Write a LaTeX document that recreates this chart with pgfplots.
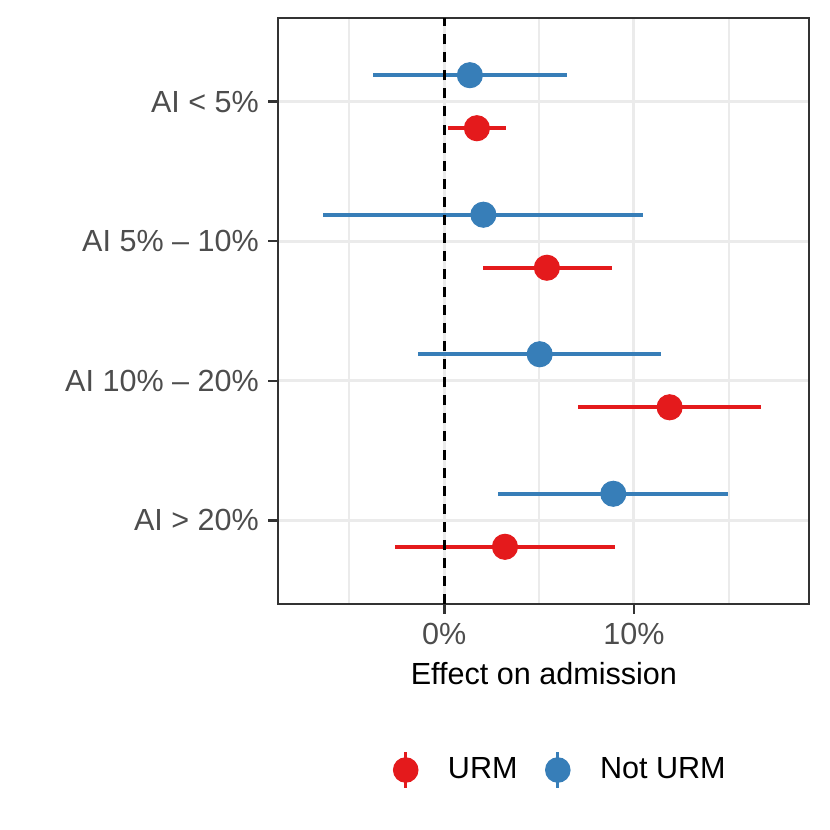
\documentclass[border=0pt]{standalone}
\usepackage{pgfplots}
\pgfplotsset{compat=1.18}
\usepackage{pgfplotstable}
\usepackage{fontspec}
\setmainfont{Liberation Sans}

\definecolor{urm}{HTML}{E41A1C}
\definecolor{noturm}{HTML}{377EB8}
\definecolor{grid92}{HTML}{EBEBEB}
\definecolor{grey30}{HTML}{4D4D4D}
\definecolor{grey20}{HTML}{333333}

% cat: 4 = AI < 5%, 3 = 5-10, 2 = 10-20, 1 = > 20
\pgfplotstableread{
cat est lo hi
4 1.72 0.18 3.25
3 5.41 2.04 8.82
2 11.88 7.06 16.69
1 3.20 -2.61 9.01
}\urmdata

\pgfplotstableread{
cat est lo hi
4 1.35 -3.74 6.45
3 2.06 -6.38 10.49
2 5.03 -1.40 11.42
1 8.91 2.85 14.94
}\noturmdata

\newcommand{\fsz}{\fontsize{11}{13.2}\selectfont}

\begin{document}
\begin{tikzpicture}
\useasboundingbox (0,0) rectangle (298.8pt,298.8pt);
\begin{axis}[
    at={(100.19pt,81.36pt)},
    anchor=south west,
    scale only axis,
    width=191.2pt,
    height=210.96pt,
    xmin=-8.75, xmax=19.25,
    ymin=0.4, ymax=4.6,
    xtick={0,10},
    xticklabels={0\%,10\%},
    minor xtick={-5,5,15},
    ytick={1,2,3,4},
    yticklabels={AI > 20\%, AI 10\% – 20\%, AI 5\% – 10\%, AI < 5\%},
    tick pos=left,
    tick align=outside,
    major tick length=3.6pt,
    minor tick length=0pt,
    tick style={color=grey20, line width=0.9pt},
    axis line style={color=grey20, line width=0.7pt},
    grid=both,
    major grid style={color=grid92, line width=1.1pt},
    minor grid style={color=grid92, line width=0.7pt},
    ticklabel style={font=\fsz, text=grey30, inner sep=0pt},
    yticklabel style={xshift=-3.2pt},
    xticklabel style={yshift=-3.2pt},
    xlabel={Effect on admission},
    xlabel style={font=\fsz, at={(axis description cs:0.5,-0.0985)}, anchor=north, inner sep=0pt},
    legend columns=2,
    legend style={
        at={(axis description cs:0.2148,-0.2833)},
        anchor=west,
        draw=none, fill=none,
        inner sep=0pt,
        font=\fsz,
        /tikz/every odd column/.append style={column sep=8.6pt},
        /tikz/every even column/.append style={column sep=7.9pt},
    },
    clip=false,
]

\addplot[
    only marks, color=urm, mark=*, mark size=4.5pt,
    mark options={fill=urm, draw=urm},
    legend image code/.code={
        \draw[line width=1.2pt] (0pt,-6.4pt) -- (0pt,6.4pt);
        \fill (0pt,0pt) circle (4.4pt);
    },
    error bars/.cd, x dir=both, x explicit, error mark=none,
    error bar style={line width=1.45pt, color=urm},
] table[
    x=est, y expr=\thisrow{cat}-0.19,
    x error plus expr=\thisrow{hi}-\thisrow{est},
    x error minus expr=\thisrow{est}-\thisrow{lo},
] {\urmdata};
\addlegendentry{URM}

\addplot[
    only marks, color=noturm, mark=*, mark size=4.5pt,
    mark options={fill=noturm, draw=noturm},
    legend image code/.code={
        \draw[line width=1.2pt] (0pt,-6.4pt) -- (0pt,6.4pt);
        \fill (0pt,0pt) circle (4.4pt);
    },
    error bars/.cd, x dir=both, x explicit, error mark=none,
    error bar style={line width=1.45pt, color=noturm},
] table[
    x=est, y expr=\thisrow{cat}+0.19,
    x error plus expr=\thisrow{hi}-\thisrow{est},
    x error minus expr=\thisrow{est}-\thisrow{lo},
] {\noturmdata};
\addlegendentry{Not URM}

\addplot[black, line width=0.9pt, dash pattern=on 3.6pt off 2.9pt, forget plot]
    coordinates {(0,0.4) (0,4.6)};

\end{axis}
\end{tikzpicture}
\end{document}
